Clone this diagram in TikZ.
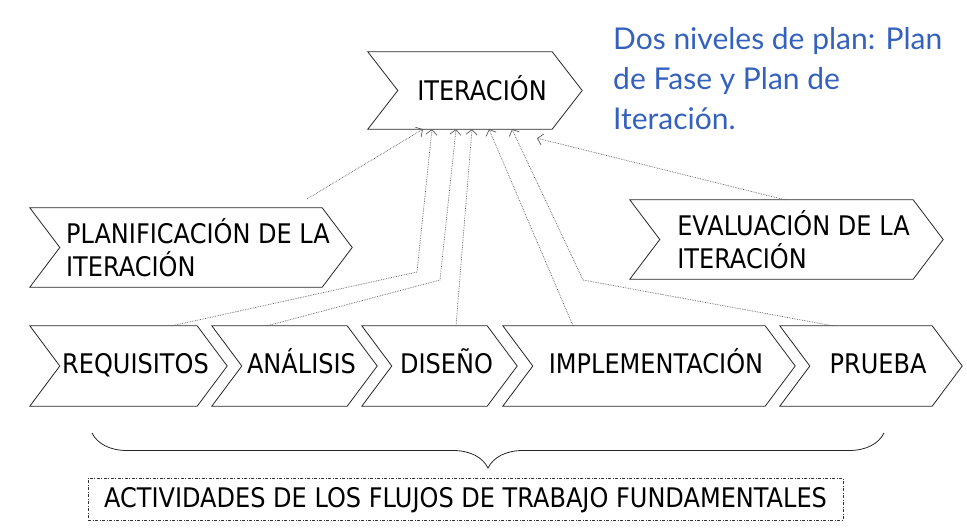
\documentclass[tikz,border=0pt]{standalone}
\usepackage{fontspec}
\usetikzlibrary{arrows.meta,decorations.pathreplacing}
\newfontfamily\chevfont[FakeStretch=0.89]{DejaVu Sans}
\newfontfamily\notefont{Lato}
\definecolor{noteblue}{RGB}{52,96,190}

\begin{document}
\begin{tikzpicture}[x=1pt,y=-1pt,
        chev/.style={inner sep=0pt, minimum height=80pt, font=\chevfont\fontsize{27}{33}\selectfont},
        oneline/.style={text height=20pt, text depth=6pt},
        chevline/.style={draw=black!85, line width=0.8pt},
        flow/.style={densely dotted, draw=black!65, line width=0.7pt, -{Straight Barb[length=5pt,width=11pt]}}]
    \useasboundingbox (0,0) rectangle (967,530);
    % iteration and its planning / evaluation
    \node[chev, oneline, text depth=1pt, minimum width=184pt, minimum height=77pt] (iter) at (482,90.5) {ITERACIÓN};
    \node[chev, minimum width=292pt, minimum height=79pt, align=left] (plan) at (198,247.5) {PLANIFICACIÓN DE LA\\ITERACIÓN};
    \node[chev, minimum width=283pt, minimum height=79pt, align=left] (eval) at (793.5,239.5) {EVALUACIÓN DE LA\\ITERACIÓN};
    % the workflows
    \node[chev, oneline, minimum width=167pt] (req) at (135.5,366) {REQUISITOS};
    \node[chev, oneline, minimum width=135pt] (ana) at (301.5,366) {ANÁLISIS};
    \node[chev, oneline, minimum width=125pt] (dis) at (446.5,366) {DISEÑO};
    \node[chev, oneline, minimum width=262pt] (impl) at (656,366) {IMPLEMENTACIÓN};
    \node[chev, oneline, minimum width=152pt] (prue) at (878,366) {PRUEBA};
    \foreach \n in {iter,plan,eval,req,ana,dis,impl,prue}
        \draw[chevline] ([xshift=-22pt]\n.north west) -- ([xshift=-22pt]\n.north east) -- ([xshift=8pt]\n.east)
            -- ([xshift=-22pt]\n.south east) -- ([xshift=-22pt]\n.south west) -- ([xshift=8pt]\n.west) -- cycle;

    \draw[flow] ([xshift=-37pt,yshift=9pt]plan.north east) -- ([xshift=-59pt]iter.south);
    \draw[flow] ([xshift=36.5pt]req.north) -- (417,272) -- ([xshift=-50pt]iter.south);
    \draw[flow] ([xshift=-34.5pt]ana.north) -- (440,280) -- ([xshift=-26pt]iter.south);
    \draw[flow] ([xshift=9.5pt]dis.north) -- ([xshift=-10pt]iter.south);
    \draw[flow] ([xshift=-83pt]impl.north) -- ([xshift=7pt]iter.south);
    \draw[flow] ([xshift=-45pt]prue.north) -- (583,280) -- ([xshift=30pt]iter.south);
    \draw[flow] ([xshift=-8.5pt]eval.north) -- ([xshift=55pt,yshift=-9pt]iter.south);

    \draw[decorate, decoration={brace, mirror, amplitude=35pt}, draw=black!85, line width=0.8pt] (92,433) -- (884,433);
    \node[draw=black!80, dash pattern=on 3pt off 1.5pt on 1pt off 1.5pt, line width=0.7pt,
        minimum width=755pt, minimum height=42pt, inner sep=0pt, text height=20pt, text depth=4pt,
        font=\chevfont\fontsize{27}{33}\selectfont] (act) at (465.5,499) {ACTIVIDADES DE LOS FLUJOS DE TRABAJO FUNDAMENTALES};

    \node[anchor=north west, inner sep=0pt, align=left, text=noteblue,
        font=\notefont\fontsize{30}{40}\selectfont] (note) at (613,27) {Dos niveles de plan: Plan\\de Fase y Plan de\\Iteración.};
\end{tikzpicture}
\end{document}
